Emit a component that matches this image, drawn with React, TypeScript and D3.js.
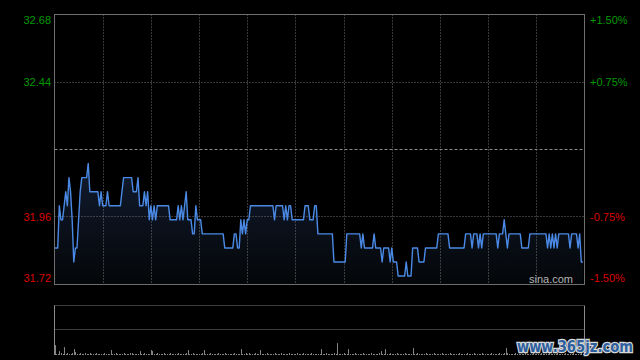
import React, { useRef, useEffect } from 'react';
import * as d3 from 'd3';

// minute-by-minute last price, 09:30 -> 16:00 (HK session, lunch removed)
const prices: number[] = [
  31.85, 31.85, 31.85, 32.0, 31.95, 31.95, 32.0, 32.05, 32.0, 32.1,
  32.05, 31.95, 31.8, 31.85, 31.85, 31.95, 32.05, 32.1, 32.1, 32.1,
  32.1, 32.15, 32.05, 32.05, 32.05, 32.05, 32.05, 32.05, 32.0, 32.05,
  32.0, 32.0, 32.0, 32.05, 32.0, 32.0, 32.0, 32.0, 32.0, 32.0,
  32.0, 32.0, 32.05, 32.1, 32.1, 32.1, 32.1, 32.1, 32.1, 32.05,
  32.05, 32.05, 32.1, 32.0, 32.0, 32.0, 32.05, 32.0, 32.05, 31.95,
  32.0, 31.95, 32.0, 31.95, 32.0, 32.0, 32.0, 32.0, 32.0, 32.0,
  32.0, 32.0, 31.95, 31.95, 31.95, 31.95, 31.95, 32.0, 31.95, 32.0,
  31.95, 32.0, 32.05, 31.95, 31.95, 31.95, 31.9, 31.9, 32.0, 31.95,
  31.95, 31.95, 31.9, 31.9, 31.9, 31.9, 31.9, 31.9, 31.9, 31.9,
  31.9, 31.9, 31.9, 31.9, 31.9, 31.9, 31.85, 31.85, 31.85, 31.85,
  31.85, 31.85, 31.9, 31.9, 31.85, 31.85, 31.95, 31.9, 31.95, 31.9,
  31.95, 31.95, 32.0, 32.0, 32.0, 32.0, 32.0, 32.0, 32.0, 32.0,
  32.0, 32.0, 32.0, 32.0, 32.0, 32.0, 32.0, 31.95, 32.0, 32.0,
  32.0, 32.0, 32.0, 31.95, 32.0, 31.95, 32.0, 32.0, 31.95, 31.95,
  31.95, 31.95, 31.95, 31.95, 31.95, 31.95, 32.0, 32.0, 32.0, 31.95,
  31.95, 31.95, 32.0, 32.0, 31.9, 31.9, 31.9, 31.9, 31.9, 31.9,
  31.9, 31.9, 31.9, 31.9, 31.8, 31.8, 31.8, 31.8, 31.8, 31.8,
  31.8, 31.8, 31.9, 31.9, 31.9, 31.9, 31.9, 31.9, 31.9, 31.9,
  31.9, 31.85, 31.9, 31.85, 31.85, 31.85, 31.85, 31.85, 31.85, 31.9,
  31.85, 31.85, 31.85, 31.85, 31.8, 31.85, 31.85, 31.85, 31.85, 31.8,
  31.85, 31.8, 31.8, 31.8, 31.75, 31.75, 31.75, 31.75, 31.75, 31.8,
  31.75, 31.75, 31.75, 31.85, 31.85, 31.85, 31.85, 31.8, 31.8, 31.8,
  31.8, 31.85, 31.85, 31.85, 31.85, 31.85, 31.85, 31.85, 31.85, 31.9,
  31.9, 31.9, 31.9, 31.9, 31.9, 31.9, 31.85, 31.85, 31.85, 31.85,
  31.85, 31.85, 31.85, 31.85, 31.85, 31.85, 31.9, 31.9, 31.9, 31.9,
  31.85, 31.9, 31.9, 31.9, 31.85, 31.9, 31.85, 31.9, 31.9, 31.9,
  31.9, 31.9, 31.9, 31.9, 31.9, 31.9, 31.85, 31.9, 31.9, 31.9,
  31.95, 31.9, 31.85, 31.9, 31.9, 31.9, 31.9, 31.9, 31.9, 31.9,
  31.9, 31.85, 31.85, 31.85, 31.85, 31.85, 31.9, 31.9, 31.9, 31.9,
  31.9, 31.9, 31.9, 31.9, 31.9, 31.9, 31.9, 31.85, 31.9, 31.85,
  31.9, 31.85, 31.9, 31.85, 31.9, 31.9, 31.9, 31.9, 31.9, 31.9,
  31.9, 31.85, 31.9, 31.9, 31.9, 31.9, 31.85, 31.9, 31.8, 31.8,
];

// volume per minute (thousand shares)
const volumes: number[] = [
  100, 10, 10, 40, 20, 10, 80, 10, 20, 10, 10, 20, 60, 30, 10, 10, 20, 10, 10, 20, 10, 10, 20, 10, 10, 10, 20, 10, 10, 10,
  10, 20, 10, 10, 10, 50, 10, 10, 20, 10, 10, 10, 10, 20, 10, 10, 10, 20, 20, 10, 10, 10, 10, 40, 10, 10, 20, 10, 10, 10,
  50, 40, 10, 10, 20, 10, 10, 10, 20, 10, 10, 10, 20, 10, 10, 10, 10, 20, 10, 10, 10, 10, 20, 50, 10, 10, 20, 10, 10, 10,
  10, 10, 20, 50, 10, 10, 10, 20, 10, 10, 10, 10, 20, 10, 10, 10, 20, 10, 10, 10, 10, 10, 20, 10, 10, 10, 60, 10, 10, 20,
  10, 20, 10, 10, 10, 20, 10, 10, 50, 10, 10, 10, 20, 10, 10, 10, 10, 20, 10, 10, 10, 20, 10, 10, 10, 10, 20, 10, 10, 10,
  10, 20, 10, 10, 10, 20, 10, 10, 10, 10, 20, 10, 10, 10, 10, 10, 60, 10, 10, 20, 10, 10, 10, 10, 20, 10, 120, 10, 10, 10,
  20, 10, 10, 60, 10, 10, 10, 20, 10, 10, 10, 10, 20, 10, 10, 10, 10, 20, 10, 10, 10, 10, 20, 40, 10, 10, 60, 10, 10, 20,
  10, 10, 10, 20, 10, 10, 10, 10, 20, 10, 10, 10, 10, 70, 10, 10, 20, 10, 10, 10, 10, 20, 10, 10, 10, 10, 20, 10, 10, 10,
  10, 20, 10, 10, 10, 10, 20, 10, 10, 10, 10, 10, 20, 10, 10, 10, 10, 20, 10, 10, 10, 20, 10, 10, 10, 10, 20, 10, 10, 10,
  10, 10, 20, 10, 10, 10, 10, 20, 10, 10, 20, 70, 20, 10, 10, 10, 10, 20, 10, 10, 10, 10, 10, 20, 10, 10, 10, 10, 20, 10,
  10, 10, 10, 20, 10, 10, 10, 10, 20, 10, 10, 10, 10, 20, 10, 10, 10, 10, 20, 10, 10, 10, 10, 20, 10, 10, 10, 10, 20, 10,
];

const prevClose = 32.2;
const priceTicks = [32.68, 32.44, 31.96, 31.72];
const pctTicks = ['+1.50%', '+0.75%', '-0.75%', '-1.50%'];
const sessionMinutes = 330;
const gridEvery = 30;

const PriceChart: React.FC = () => {
  const svgRef = useRef<SVGSVGElement>(null);

  useEffect(() => {
    document.body.style.margin = '0';
    document.body.style.background = '#000';

    const svg = d3.select(svgRef.current);
    svg.selectAll('*').remove();

    const plot = { left: 54.5, right: 584.5, top: 14.5, bottom: 284.5 };
    const volBox = { top: 305.5, mid: 329.5, bottom: 355 };
    const font = '"Liberation Sans", Arial, sans-serif';

    const x = d3.scaleLinear().domain([0, sessionMinutes]).range([plot.left, plot.right]);
    const y = d3.scaleLinear().domain([31.72, 32.68]).range([plot.bottom, plot.top]);
    const vy = d3.scaleLinear().domain([0, 500]).range([volBox.bottom, volBox.top]);

    const defs = svg.append('defs');
    const grad = defs
      .append('linearGradient')
      .attr('id', 'areaFill')
      .attr('gradientUnits', 'userSpaceOnUse')
      .attr('x1', 0)
      .attr('x2', 0)
      .attr('y1', y(32.15))
      .attr('y2', plot.bottom);
    grad.append('stop').attr('offset', 0).attr('stop-color', '#121c30');
    grad.append('stop').attr('offset', 1).attr('stop-color', '#040608');

    svg.append('rect').attr('width', 640).attr('height', 360).attr('fill', '#000');

    // area under the price line
    const area = d3
      .area<number>()
      .x((_, i) => x(i))
      .y0(plot.bottom)
      .y1((d) => y(d));
    svg.append('path').datum(prices).attr('d', area).attr('fill', 'url(#areaFill)');

    // grid
    const gGrid = svg.append('g').attr('fill', 'none');
    for (let k = 1; k < sessionMinutes / gridEvery; k++) {
      const gx = Math.round(x(k * gridEvery)) + 0.5;
      gGrid
        .append('line')
        .attr('x1', gx)
        .attr('x2', gx)
        .attr('y1', plot.top)
        .attr('y2', plot.bottom)
        .attr('stroke', '#737373')
        .attr('stroke-dasharray', '1,2');
    }
    [32.44, 31.96].forEach((v) => {
      const gy = Math.floor(y(v)) + 0.5;
      gGrid
        .append('line')
        .attr('x1', plot.left)
        .attr('x2', plot.right)
        .attr('y1', gy)
        .attr('y2', gy)
        .attr('stroke', '#737373')
        .attr('stroke-dasharray', '1,2');
    });
    const cy = Math.floor(y(prevClose)) + 0.5;
    gGrid
      .append('line')
      .attr('x1', plot.left)
      .attr('x2', plot.right)
      .attr('y1', cy)
      .attr('y2', cy)
      .attr('stroke', '#8a8a8a')
      .attr('stroke-dasharray', '3,2');

    const line = d3
      .line<number>()
      .x((_, i) => x(i))
      .y((d) => y(d));
    svg
      .append('path')
      .datum(prices)
      .attr('d', line)
      .attr('fill', 'none')
      .attr('stroke', '#4a8ae6')
      .attr('stroke-width', 1.4)
      .attr('stroke-linejoin', 'round');

    // frame
    svg
      .append('rect')
      .attr('x', plot.left)
      .attr('y', plot.top)
      .attr('width', plot.right - plot.left)
      .attr('height', plot.bottom - plot.top)
      .attr('fill', 'none')
      .attr('stroke', '#6e6e6e');

    // price labels (left) and percent labels (right)
    const labelY = (i: number, v: number): number => {
      if (i === 0) return y(v) + 9.5;
      if (i === priceTicks.length - 1) return y(v) - 2.5;
      return y(v) + 4;
    };
    priceTicks.forEach((v, i) => {
      const col = v > prevClose ? '#009a00' : '#dd0000';
      svg
        .append('text')
        .attr('x', 51)
        .attr('y', labelY(i, v))
        .attr('text-anchor', 'end')
        .attr('font-family', font)
        .attr('font-size', 11)
        .attr('fill', col)
        .text(v.toFixed(2));
      svg
        .append('text')
        .attr('x', 590)
        .attr('y', labelY(i, v))
        .attr('font-family', font)
        .attr('font-size', 11)
        .attr('fill', col)
        .text(pctTicks[i]);
    });

    svg
      .append('text')
      .attr('x', 573)
      .attr('y', 283)
      .attr('text-anchor', 'end')
      .attr('font-family', font)
      .attr('font-size', 11)
      .attr('fill', '#b4b4b4')
      .text('sina.com');

    // volume panel
    const gVol = svg.append('g');
    [volBox.top, volBox.mid].forEach((vy0) => {
      gVol
        .append('line')
        .attr('x1', plot.left)
        .attr('x2', plot.right)
        .attr('y1', vy0)
        .attr('y2', vy0)
        .attr('stroke', '#7a7a7a')
        .attr('stroke-dasharray', '1,1');
    });
    [plot.left, plot.right].forEach((bx) => {
      gVol
        .append('line')
        .attr('x1', bx)
        .attr('x2', bx)
        .attr('y1', volBox.top)
        .attr('y2', volBox.bottom)
        .attr('stroke', '#8a8a8a');
    });
    gVol
      .selectAll('line.bar')
      .data(volumes)
      .enter()
      .append('line')
      .attr('class', 'bar')
      .attr('x1', (_, i) => Math.round(x(i)) + 0.5)
      .attr('x2', (_, i) => Math.round(x(i)) + 0.5)
      .attr('y1', volBox.bottom)
      .attr('y2', (d) => vy(d))
      .attr('stroke', '#858585');

    svg
      .append('text')
      .attr('x', 517)
      .attr('y', 352)
      .attr('textLength', 116)
      .attr('lengthAdjust', 'spacingAndGlyphs')
      .attr('font-family', '"DejaVu Sans", sans-serif')
      .attr('font-weight', 'bold')
      .attr('font-size', 15)
      .attr('fill', '#2d5f9e')
      .attr('stroke', '#d8d8d8')
      .attr('stroke-width', 2.5)
      .attr('paint-order', 'stroke')
      .text('www.365jz.com');
  }, []);

  return (
    <svg
      ref={svgRef}
      width={640}
      height={360}
      style={{ display: 'block', position: 'absolute', left: 0, top: 0 }}
    />
  );
};

export default function App() {
  return <PriceChart />;
}
